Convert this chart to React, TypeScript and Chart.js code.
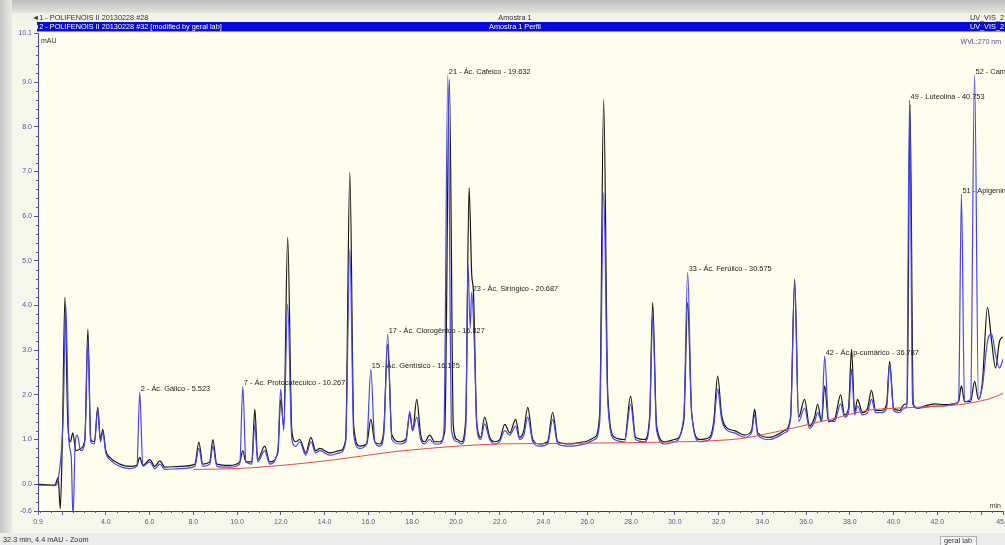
import React, { useEffect, useRef } from "react";
import { Chart, registerables } from "chart.js";

Chart.register(...registerables);

// ---------- data ----------
// Trace 1: POLIFENOIS II 20130228 #28 (black) — [time min, mAU]
const trace1: [number, number][] = [
  [0.9, 0.0], [1.67, -0.02], [1.82, 0.15], [1.92, -0.55], [2.02, 1.2], [2.13, 4.18], [2.26, 1.4], [2.38, 0.95],
  [2.49, 1.15], [2.63, 0.75], [2.85, 0.8], [3.04, 1.0], [3.18, 3.47], [3.31, 1.0], [3.48, 0.95], [3.63, 1.72],
  [3.75, 1.0], [3.86, 1.23], [4.0, 0.75], [4.18, 0.6], [4.64, 0.45], [5.1, 0.4], [5.42, 0.42], [5.55, 0.6],
  [5.69, 0.42], [6.01, 0.55], [6.24, 0.4], [6.47, 0.52], [6.7, 0.38], [7.38, 0.4], [8.07, 0.45], [8.25, 0.94],
  [8.43, 0.45], [8.75, 0.5], [8.89, 1.0], [9.07, 0.45], [9.66, 0.42], [10.12, 0.5], [10.26, 0.75], [10.4, 0.5],
  [10.67, 0.5], [10.81, 1.68], [10.94, 0.55], [11.26, 0.85], [11.49, 0.5], [11.86, 0.7], [11.99, 1.9], [12.13, 1.3],
  [12.31, 5.53], [12.5, 1.2], [12.68, 0.95], [12.86, 1.0], [13.14, 0.7], [13.37, 1.05], [13.59, 0.75], [13.78, 0.8],
  [14.23, 0.7], [14.69, 0.75], [14.96, 1.0], [15.15, 6.98], [15.33, 1.3], [15.6, 0.85], [15.92, 0.9], [16.11, 1.45],
  [16.29, 0.95], [16.52, 0.9], [16.7, 1.2], [16.88, 3.13], [17.07, 1.1], [17.43, 0.95], [17.71, 1.0], [17.89, 1.57],
  [18.02, 1.2], [18.21, 1.9], [18.39, 1.1], [18.57, 0.95], [18.8, 1.1], [19.03, 0.95], [19.26, 0.95], [19.49, 1.2],
  [19.7, 9.06], [19.88, 1.3], [20.05, 1.0], [20.26, 0.95], [20.45, 1.5], [20.6, 6.64], [20.72, 4.7], [20.8, 4.3],
  [20.95, 1.4], [21.13, 1.05], [21.31, 1.5], [21.54, 1.05], [21.77, 0.95], [22.0, 1.0], [22.23, 1.34], [22.46, 1.15],
  [22.73, 1.45], [22.91, 1.05], [23.1, 1.2], [23.28, 1.72], [23.51, 1.0], [23.83, 0.9], [24.19, 0.95], [24.42, 1.61],
  [24.65, 0.95], [25.2, 0.9], [25.88, 0.95], [26.34, 1.05], [26.57, 1.6], [26.75, 8.61], [26.94, 2.0], [27.25, 1.05],
  [27.71, 1.0], [27.98, 1.97], [28.21, 1.05], [28.62, 1.0], [28.85, 1.5], [28.99, 4.07], [29.17, 1.3], [29.54, 0.95],
  [29.99, 1.0], [30.41, 1.4], [30.59, 4.07], [30.77, 1.6], [31.14, 1.0], [31.59, 1.05], [31.78, 1.4], [31.96, 2.42],
  [32.14, 1.55], [32.41, 1.25], [32.73, 1.2], [33.19, 1.1], [33.51, 1.2], [33.65, 1.68], [33.79, 1.15], [34.33, 1.05],
  [35.02, 1.2], [35.29, 1.5], [35.48, 4.59], [35.66, 1.5], [35.93, 1.9], [36.16, 1.3], [36.39, 1.5], [36.53, 1.79],
  [36.71, 1.4], [36.85, 2.2], [37.03, 1.4], [37.3, 1.45], [37.58, 2.0], [37.76, 1.55], [37.94, 1.7], [38.08, 3.02],
  [38.22, 1.6], [38.35, 1.9], [38.58, 1.6], [38.81, 1.7], [38.99, 2.1], [39.18, 1.65], [39.45, 1.65], [39.68, 1.8],
  [39.82, 2.75], [40.0, 1.7], [40.27, 1.65], [40.5, 1.79], [40.62, 1.8], [40.75, 8.5], [40.9, 1.8], [41.09, 1.7],
  [41.41, 1.75], [41.87, 1.8], [42.33, 1.78], [42.78, 1.8], [42.97, 1.85], [43.1, 2.2], [43.24, 1.85], [43.52, 1.85],
  [43.7, 2.3], [43.88, 1.9], [44.06, 2.3], [44.29, 3.96], [44.48, 3.2], [44.66, 2.6], [44.84, 3.2], [45.0, 3.3],
];

// Trace 2: POLIFENOIS II 20130228 #32 (blue)
const trace2: [number, number][] = [
  [0.9, -0.02], [1.67, -0.03], [1.85, 0.2], [2.05, 1.5], [2.17, 4.03], [2.31, 1.0], [2.42, 0.6], [2.5, -0.75],
  [2.6, 0.9], [2.7, 1.1], [2.85, 0.75], [3.04, 0.95], [3.18, 3.24], [3.31, 0.95], [3.48, 0.9], [3.63, 1.68],
  [3.75, 0.95], [3.86, 1.15], [4.0, 0.7], [4.18, 0.55], [4.64, 0.4], [5.1, 0.35], [5.42, 0.4], [5.55, 2.06],
  [5.69, 0.4], [6.01, 0.5], [6.24, 0.35], [6.47, 0.45], [6.7, 0.33], [7.38, 0.35], [8.07, 0.4], [8.25, 0.8],
  [8.43, 0.4], [8.75, 0.45], [8.89, 0.85], [9.07, 0.4], [9.66, 0.38], [10.12, 0.45], [10.26, 2.19], [10.4, 0.5],
  [10.67, 0.45], [10.81, 1.34], [10.94, 0.5], [11.26, 0.75], [11.49, 0.45], [11.86, 0.75], [11.99, 2.13], [12.13, 1.2],
  [12.31, 4.03], [12.5, 1.0], [12.68, 0.85], [12.86, 0.95], [13.14, 0.65], [13.37, 0.95], [13.59, 0.7], [13.78, 0.75],
  [14.23, 0.65], [14.69, 0.7], [14.96, 0.95], [15.15, 5.26], [15.33, 1.1], [15.6, 0.8], [15.92, 0.9], [16.11, 2.57],
  [16.29, 0.95], [16.52, 0.85], [16.7, 1.1], [16.88, 3.36], [17.07, 1.0], [17.43, 0.9], [17.71, 0.95], [17.89, 1.63],
  [18.02, 1.2], [18.21, 1.5], [18.39, 1.0], [18.57, 0.9], [18.8, 1.0], [19.03, 0.9], [19.26, 0.9], [19.45, 1.2],
  [19.63, 9.17], [19.8, 1.2], [20.05, 0.95], [20.26, 0.9], [20.45, 1.3], [20.55, 4.94], [20.65, 3.5], [20.72, 4.3],
  [20.85, 3.0], [20.95, 1.3], [21.13, 1.0], [21.31, 1.35], [21.54, 1.0], [21.77, 0.9], [22.0, 0.95], [22.23, 1.2],
  [22.46, 1.1], [22.73, 1.3], [22.91, 1.0], [23.1, 1.1], [23.28, 1.5], [23.51, 0.95], [23.83, 0.85], [24.19, 0.9],
  [24.42, 1.45], [24.65, 0.9], [25.2, 0.85], [25.88, 0.9], [26.34, 1.0], [26.57, 1.4], [26.75, 6.53], [26.94, 1.8],
  [27.25, 1.0], [27.71, 0.95], [27.98, 1.79], [28.21, 1.0], [28.62, 0.95], [28.85, 1.4], [28.99, 3.74], [29.17, 1.2],
  [29.54, 0.9], [29.99, 0.95], [30.41, 1.5], [30.59, 4.74], [30.77, 1.6], [31.14, 0.95], [31.59, 1.0], [31.78, 1.3],
  [31.96, 2.13], [32.14, 1.45], [32.41, 1.2], [32.73, 1.15], [33.19, 1.05], [33.51, 1.15], [33.65, 1.55], [33.79, 1.1],
  [34.33, 1.0], [35.02, 1.15], [35.29, 1.45], [35.48, 4.5], [35.66, 1.4], [35.93, 1.7], [36.16, 1.25], [36.39, 1.4],
  [36.53, 1.6], [36.71, 1.4], [36.85, 2.86], [37.03, 1.45], [37.3, 1.4], [37.58, 1.8], [37.76, 1.5], [37.94, 1.6],
  [38.08, 2.57], [38.22, 1.55], [38.35, 1.75], [38.58, 1.55], [38.81, 1.6], [38.99, 1.9], [39.18, 1.6], [39.45, 1.6],
  [39.68, 1.7], [39.82, 2.68], [40.0, 1.65], [40.27, 1.6], [40.5, 1.7], [40.6, 1.75], [40.73, 8.6], [40.87, 1.8],
  [41.09, 1.7], [41.41, 1.72], [41.87, 1.75], [42.33, 1.75], [42.78, 1.8], [42.97, 1.85], [43.1, 6.49], [43.24, 1.85],
  [43.52, 1.9], [43.7, 9.17], [43.88, 1.9], [44.06, 2.2], [44.29, 3.2], [44.48, 3.36], [44.66, 2.9], [44.84, 2.6],
  [45.0, 2.8],
];

// Integration baseline (red)
const baseline: [number, number][] = [
  [8.0, 0.33], [10.0, 0.35], [12.0, 0.42], [14.0, 0.52], [16.0, 0.65], [17.4, 0.74], [20.0, 0.85], [22.0, 0.9],
  [24.0, 0.91], [26.0, 0.92], [28.0, 0.93], [31.1, 0.96], [33.0, 1.02], [34.8, 1.19], [37.1, 1.45], [38.9, 1.66],
  [41.0, 1.72], [43.0, 1.78], [44.3, 1.9], [45.0, 2.03],
];

const peakTimes = [5.55, 10.26, 16.11, 16.88, 19.63, 20.72, 30.59, 36.85, 40.73, 43.1, 43.7];
const peakHeights = [2.06, 2.19, 2.57, 3.36, 9.17, 4.3, 4.74, 2.86, 8.6, 6.49, 9.17];
const peakNames = [
  "2 - Ác. Gálico - 5.523",
  "7 - Ác. Protocatecuico - 10.267",
  "15 - Ác. Gentísico - 16.125",
  "17 - Ác. Clorogênico - 16.827",
  "21 - Ác. Cafeico - 19.632",
  "23 - Ác. Siríngico - 20.687",
  "33 - Ác. Ferúlico - 30.575",
  "42 - Ác. p-cumárico - 36.787",
  "49 - Luteolina - 40.753",
  "51 - Apigenina - 43.103",
  "52 - Campferol - 43.703",
];

const xTickValues = [0.9, 2, 4, 6, 8, 10, 12, 14, 16, 18, 20, 22, 24, 26, 28, 30, 32, 34, 36, 38, 40, 42, 44, 45];
const xTickLabels = ["0.9", "", "4.0", "6.0", "8.0", "10.0", "12.0", "14.0", "16.0", "18.0", "20.0", "22.0", "24.0",
  "26.0", "28.0", "30.0", "32.0", "34.0", "36.0", "38.0", "40.0", "42.0", "", "45.0"];
const yTickValues = [-0.6, 0, 1, 2, 3, 4, 5, 6, 7, 8, 9, 10.1];
const yTickLabels = ["-0.6", "0.0", "1.0", "2.0", "3.0", "4.0", "5.0", "6.0", "7.0", "8.0", "9.0", "10.1"];

const headerRow1 = ["1 - POLIFENOIS II 20130228 #28", "Amostra 1", "UV_VIS_2"];
const headerRow2 = ["2 - POLIFENOIS II 20130228 #32 [modified by geral lab]", "Amostra 1 Perfil", "UV_VIS_2"];
const statusText = "32.3 min, 4.4 mAU - Zoom";
const userText = "geral lab";

const FONT = "'Liberation Sans', Arial, sans-serif";

const framePlugin = {
  id: "frame",
  beforeDraw(chart: any) {
    const ctx = chart.ctx as CanvasRenderingContext2D;
    const W = chart.width, H = chart.height;
    const a = chart.chartArea;
    ctx.save();
    ctx.fillStyle = "#f7f6ea";
    ctx.fillRect(0, 0, W, H);
    // top shadow
    const g = ctx.createLinearGradient(0, 0, 0, 13);
    g.addColorStop(0, "#bdbdbd");
    g.addColorStop(1, "#e4e4e0");
    ctx.fillStyle = g;
    ctx.fillRect(0, 0, W, 13);
    // left shadow
    const g2 = ctx.createLinearGradient(0, 0, 12, 0);
    g2.addColorStop(0, "#c4c4c4");
    g2.addColorStop(1, "#ebebe6");
    ctx.fillStyle = g2;
    ctx.fillRect(0, 0, 12, H);
    // header row 1
    ctx.fillStyle = "#f4f4e6";
    ctx.fillRect(12, 13, W - 12, 9);
    // header row 2 (selected)
    ctx.fillStyle = "#0808e0";
    ctx.fillRect(37, 22, W - 37, 10);
    ctx.fillStyle = "#8a8ae8";
    ctx.fillRect(37, 31, W - 37, 1);
    // plot background
    ctx.fillStyle = "#fffdee";
    ctx.fillRect(a.left, a.top, a.right - a.left + 2, a.bottom - a.top);
    // status bar
    ctx.fillStyle = "#ececea";
    ctx.fillRect(0, H - 12, W, 12);
    ctx.fillStyle = "#f8f8f4";
    ctx.fillRect(940, H - 9, 36, 9);
    ctx.strokeStyle = "#b0b0b0";
    ctx.lineWidth = 1;
    ctx.strokeRect(940.5, H - 8.5, 36, 9);

    ctx.font = `7.3px ${FONT}`;
    ctx.textBaseline = "middle";
    // row 1
    ctx.fillStyle = "#303030";
    ctx.textAlign = "left";
    ctx.fillText("◄" + headerRow1[0], 32, 18);
    ctx.textAlign = "center";
    ctx.fillText(headerRow1[1], 515, 18);
    ctx.textAlign = "right";
    ctx.fillText(headerRow1[2], 1004, 18);
    // row 2
    ctx.fillStyle = "#ffffff";
    ctx.textAlign = "left";
    ctx.fillText("◄" + headerRow2[0], 32, 27);
    ctx.textAlign = "center";
    ctx.fillText(headerRow2[1], 515, 27);
    ctx.textAlign = "right";
    ctx.fillText(headerRow2[2], 1004, 27);
    // status
    ctx.fillStyle = "#303030";
    ctx.textAlign = "left";
    ctx.fillText(statusText, 3, H - 5);
    ctx.textAlign = "center";
    ctx.fillText(userText, 958, H - 4);
    ctx.restore();
  },
  afterDraw(chart: any) {
    const ctx = chart.ctx as CanvasRenderingContext2D;
    const a = chart.chartArea;
    const xs = chart.scales.x, ys = chart.scales.y;
    ctx.save();
    ctx.strokeStyle = "#5a5a9a";
    ctx.lineWidth = 1;
    ctx.beginPath();
    for (let v = 1; v <= 45; v += 0.5) {
      if (Math.abs(v % 2) < 1e-6) continue;
      const px = Math.round(xs.getPixelForValue(v)) + 0.5;
      ctx.moveTo(px, a.bottom);
      ctx.lineTo(px, a.bottom + 2);
    }
    for (let v = -0.6; v <= 10.1; v += 0.2) {
      const vv = Math.round(v * 10) / 10;
      if (Math.abs(vv - Math.round(vv)) < 1e-6) continue;
      const py = Math.round(ys.getPixelForValue(vv)) + 0.5;
      ctx.moveTo(a.left - 2, py);
      ctx.lineTo(a.left, py);
    }
    ctx.stroke();
    ctx.font = `7px ${FONT}`;
    ctx.fillStyle = "#303030";
    ctx.textBaseline = "middle";
    ctx.textAlign = "left";
    ctx.fillText("mAU", a.left + 3, a.top + 8);
    ctx.fillStyle = "#505090";
    ctx.textAlign = "right";
    ctx.fillText("WVL:270 nm", 1001, a.top + 9);
    ctx.fillStyle = "#303030";
    ctx.fillText("min", 1001, a.bottom - 5);
    ctx.restore();
  },
  afterDatasetsDraw(chart: any) {
    const ctx = chart.ctx as CanvasRenderingContext2D;
    const xs = chart.scales.x, ys = chart.scales.y;
    ctx.save();
    ctx.font = `7.4px ${FONT}`;
    ctx.fillStyle = "#202020";
    ctx.textAlign = "left";
    ctx.textBaseline = "alphabetic";
    peakNames.forEach((name, i) => {
      const px = xs.getPixelForValue(peakTimes[i]);
      const py = ys.getPixelForValue(peakHeights[i]);
      ctx.fillText(name, px + 1, py - 1);
    });
    ctx.restore();
  },
};

export default function App() {
  const ref = useRef<HTMLCanvasElement | null>(null);
  useEffect(() => {
    document.body.style.margin = "0";
    const canvas = ref.current!;
    const chart = new Chart(canvas, {
      type: "line",
      data: {
        datasets: [
          {
            label: "baseline",
            data: baseline.map(([x, y]) => ({ x, y })),
            borderColor: "#e84848",
            borderWidth: 1,
            pointRadius: 0,
            tension: 0.3,
          },
          {
            label: "#32",
            data: trace2.map(([x, y]) => ({ x, y })),
            borderColor: "#4646ec",
            borderWidth: 1.2,
            pointRadius: 0,
            cubicInterpolationMode: "monotone",
          },
          {
            label: "#28",
            data: trace1.map(([x, y]) => ({ x, y })),
            borderColor: "#151515",
            borderWidth: 1.2,
            pointRadius: 0,
            cubicInterpolationMode: "monotone",
          },
        ],
      },
      options: {
        responsive: false,
        maintainAspectRatio: false,
        devicePixelRatio: 1,
        animation: false,
        layout: { padding: { top: 33, right: 2, bottom: 12, left: 0 } },
        plugins: { legend: { display: false }, tooltip: { enabled: false } },
        scales: {
          x: {
            type: "linear",
            min: 0.9,
            max: 45,
            afterBuildTicks: (s: any) => {
              s.ticks = xTickValues.map((v) => ({ value: v }));
            },
            afterFit: (s: any) => {
              s.height = 22;
              s.paddingLeft = 0;
              s.paddingRight = 0;
            },
            ticks: {
              autoSkip: false,
              maxRotation: 0,
              padding: 3,
              color: "#5a5a8a",
              font: { size: 7, family: FONT },
              callback: (_v: any, i: number) => xTickLabels[i],
            },
            grid: { drawOnChartArea: false, tickLength: 4, color: "#5a5a9a" },
            border: { color: "#404040", width: 1 },
          },
          y: {
            type: "linear",
            min: -0.6,
            max: 10.1,
            afterBuildTicks: (s: any) => {
              s.ticks = yTickValues.map((v) => ({ value: v }));
            },
            afterFit: (s: any) => {
              s.width = 38;
              s.paddingTop = 0;
              s.paddingBottom = 0;
            },
            ticks: {
              autoSkip: false,
              padding: 2,
              color: "#5050b0",
              font: { size: 7, family: FONT },
              callback: (_v: any, i: number) => yTickLabels[i],
            },
            grid: { drawOnChartArea: false, tickLength: 4, color: "#5050a0" },
            border: { color: "#4848a0", width: 1 },
          },
        },
      },
      plugins: [framePlugin],
    } as any);
    return () => chart.destroy();
  }, []);
  return (
    <div style={{ position: "fixed", left: 0, top: 0, width: 1005, height: 545 }}>
      <canvas ref={ref} width={1005} height={545} style={{ width: 1005, height: 545, display: "block" }} />
    </div>
  );
}
